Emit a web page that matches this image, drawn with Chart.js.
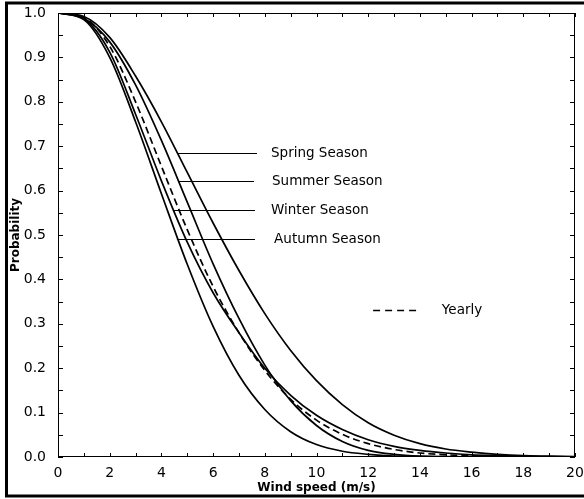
<!DOCTYPE html>
<html>
<head>
<meta charset="utf-8">
<script src="https://cdn.jsdelivr.net/npm/chart.js@4.4.1/dist/chart.umd.min.js"></script>
<style>
  html, body { margin: 0; padding: 0; background: #fff; }
  #wrap { width: 584px; height: 499px; position: relative; }
</style>
</head>
<body>
<div id="wrap"><canvas id="weibull-chart"></canvas></div>
<script>
// wind speed (m/s) and exceedance probability per season
const windSpeed = [0, 1, 2, 3, 4, 5, 6, 7, 8, 9, 10, 11, 12, 13, 14, 15, 16, 17, 18, 19, 20];
const spring = [1, 0.992, 0.945, 0.858, 0.755, 0.641, 0.527, 0.420, 0.323, 0.240, 0.172, 0.118, 0.077, 0.049, 0.030, 0.018, 0.011, 0.006, 0.003, 0.002, 0.001];
const summer = [1, 0.988, 0.935, 0.838, 0.713, 0.574, 0.435, 0.312, 0.207, 0.127, 0.071, 0.035, 0.015, 0.006, 0.002, 0.001, 0.0003, 0.0001, 0, 0, 0];
const winter = [1, 0.987, 0.912, 0.772, 0.622, 0.484, 0.370, 0.280, 0.200, 0.139, 0.094, 0.062, 0.039, 0.024, 0.015, 0.009, 0.005, 0.003, 0.0015, 0.0008, 0.0004];
const autumn = [1, 0.985, 0.900, 0.755, 0.593, 0.434, 0.294, 0.184, 0.107, 0.057, 0.028, 0.013, 0.006, 0.002, 0.001, 0.0002, 0.0001, 0, 0, 0, 0];
const yearly = [1, 0.990, 0.925, 0.800, 0.655, 0.512, 0.384, 0.280, 0.195, 0.130, 0.083, 0.051, 0.030, 0.017, 0.009, 0.005, 0.0025, 0.0012, 0.0005, 0.0002, 0.0001];

const seasonNames = ['Spring Season', 'Summer Season', 'Winter Season', 'Autumn Season'];

// leader lines next to the curves (data units): y, line start x, line end x, text x
const leaders = [
  [0.685, 4.64, 7.70, 8.24],
  [0.622, 4.68, 7.58, 8.28],
  [0.556, 4.45, 7.62, 8.24],
  [0.491, 4.60, 7.62, 8.36]
];
const yearlyKey = { y: 0.331, x0: 12.19, x1: 14.0, textX: 14.85 };

const FONT = '"DejaVu Sans", "Liberation Sans", Arial, sans-serif';

function toPoints(values) {
  return windSpeed.map((v, i) => ({ x: v, y: values[i] }));
}

function lineSet(label, values, dash) {
  return {
    label: label,
    data: toPoints(values),
    borderColor: '#000',
    borderWidth: 1.7,
    borderDash: dash || [],
    pointRadius: 0,
    fill: false,
    cubicInterpolationMode: 'monotone'
  };
}

const framePlugin = {
  id: 'frame',
  afterDraw(chart) {
    const ctx = chart.ctx;
    const area = chart.chartArea;
    const xs = chart.scales.x;
    const ys = chart.scales.y;
    ctx.save();

    // plot box
    ctx.strokeStyle = '#000';
    ctx.lineWidth = 1;
    ctx.strokeRect(area.left + 0.5, area.top + 0.5, area.right - area.left - 1, area.bottom - area.top - 1);

    // inner ticks on all four sides
    ctx.beginPath();
    for (let v = 0; v <= 20; v++) {
      const px = Math.round(xs.getPixelForValue(v)) + 0.5;
      ctx.moveTo(px, area.bottom);
      ctx.lineTo(px, area.bottom - 4);
      ctx.moveTo(px, area.top);
      ctx.lineTo(px, area.top + 4);
    }
    for (let i = 0; i <= 20; i++) {
      const py = Math.round(ys.getPixelForValue(i * 0.05)) + 0.5;
      ctx.moveTo(area.left, py);
      ctx.lineTo(area.left + 5, py);
      ctx.moveTo(area.right, py);
      ctx.lineTo(area.right - 5, py);
    }
    ctx.stroke();

    // outer frame
    ctx.lineWidth = 3;
    ctx.strokeRect(6.5, 3, 600, 493);

    // season labels
    ctx.lineWidth = 1;
    ctx.font = '13.5px ' + FONT;
    ctx.fillStyle = '#000';
    ctx.textBaseline = 'middle';
    ctx.textAlign = 'left';
    leaders.forEach((l, i) => {
      const py = Math.round(ys.getPixelForValue(l[0])) + 0.5;
      ctx.beginPath();
      ctx.moveTo(xs.getPixelForValue(l[1]), py);
      ctx.lineTo(xs.getPixelForValue(l[2]), py);
      ctx.stroke();
      ctx.fillText(seasonNames[i], xs.getPixelForValue(l[3]), py);
    });

    // yearly key
    const ky = Math.round(ys.getPixelForValue(yearlyKey.y)) + 0.5;
    ctx.lineWidth = 1.7;
    ctx.setLineDash([7, 5]);
    ctx.beginPath();
    ctx.moveTo(xs.getPixelForValue(yearlyKey.x0), ky);
    ctx.lineTo(xs.getPixelForValue(yearlyKey.x1), ky);
    ctx.stroke();
    ctx.setLineDash([]);
    ctx.fillText('Yearly', xs.getPixelForValue(yearlyKey.textX), ky);

    ctx.restore();
  }
};

const ctx = document.getElementById('weibull-chart').getContext('2d');
const weibullChart = new Chart(ctx, {
  type: 'line',
  data: {
    datasets: [
      lineSet('Spring Season', spring),
      lineSet('Summer Season', summer),
      lineSet('Winter Season', winter),
      lineSet('Autumn Season', autumn),
      lineSet('Yearly', yearly, [7, 4])
    ]
  },
  options: {
    responsive: true,
    maintainAspectRatio: false,
    animation: false,
    devicePixelRatio: 1,
    layout: { padding: { top: 13, right: 9, left: 0, bottom: 0 } },
    scales: {
      x: {
        type: 'linear',
        min: 0,
        max: 20,
        grid: { display: false },
        border: { display: false },
        ticks: {
          stepSize: 2,
          autoSkip: false,
          maxRotation: 0,
          padding: 0,
          color: '#000',
          font: { family: FONT, size: 14 }
        },
        title: {
          display: true,
          text: 'Wind speed (m/s)',
          color: '#000',
          font: { family: FONT, size: 12, weight: 'bold' },
          padding: { top: 0, bottom: 4 }
        },
        afterFit: (scale) => { scale.height = 42; }
      },
      y: {
        min: 0,
        max: 1,
        grid: { display: false },
        border: { display: false },
        ticks: {
          stepSize: 0.1,
          padding: 4,
          color: '#000',
          font: { family: FONT, size: 14 },
          callback: (v) => v.toFixed(1)
        },
        title: {
          display: true,
          text: 'Probability',
          color: '#000',
          font: { family: FONT, size: 12, weight: 'bold' },
          padding: { top: 9, bottom: 0 }
        },
        afterFit: (scale) => { scale.width = 58; }
      }
    },
    plugins: {
      legend: { display: false },
      tooltip: { enabled: false }
    }
  },
  plugins: [framePlugin]
});
</script>
</body>
</html>
